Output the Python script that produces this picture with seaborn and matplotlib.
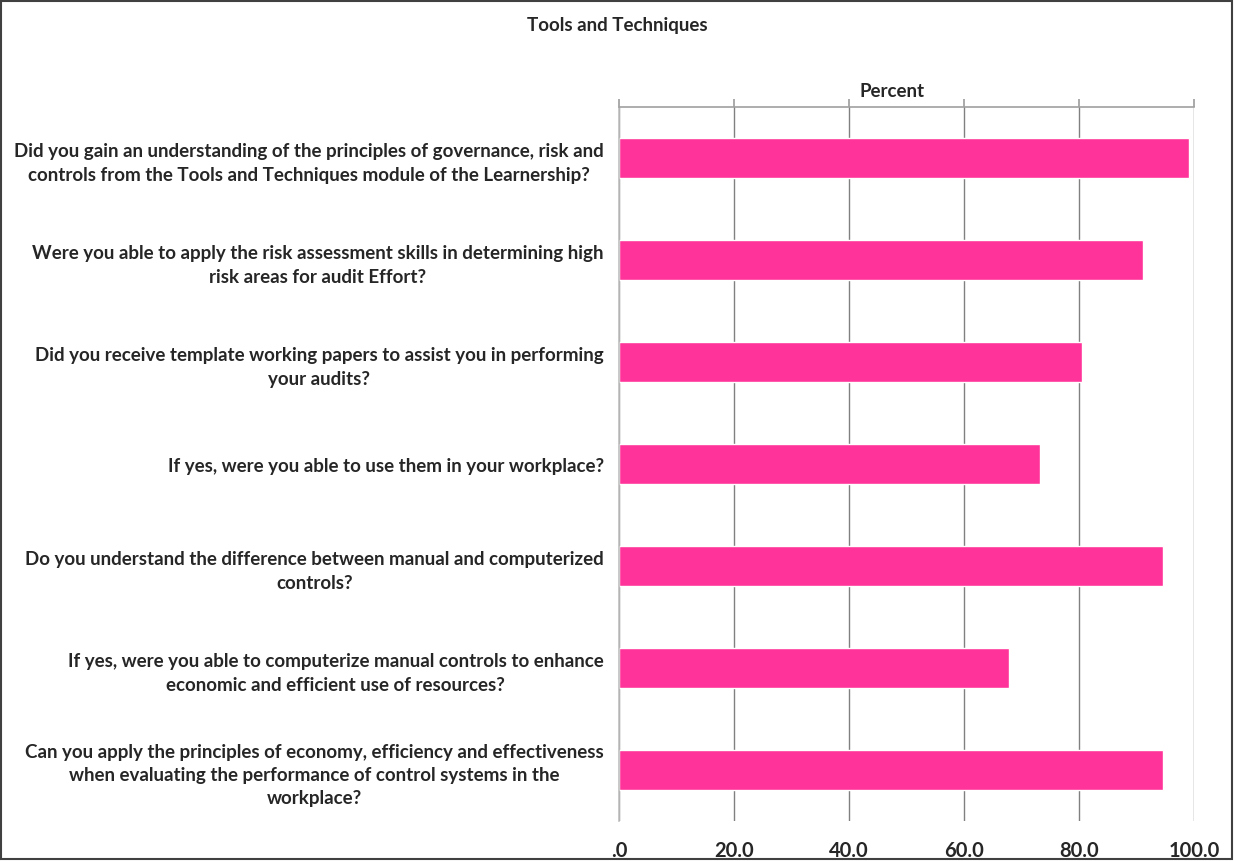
import matplotlib
matplotlib.use("Agg")
import matplotlib.pyplot as plt
import seaborn as sns
import pandas as pd
from matplotlib.patches import Rectangle

questions = [
    "Did you gain an understanding of the principles of governance, risk and\ncontrols from the Tools and Techniques module of the Learnership?",
    "Were you able to apply the risk assessment skills in determining high\nrisk areas for audit Effort?",
    "Did you receive template working papers to assist you in performing\nyour audits?",
    "If yes, were you able to use them in your workplace?",
    "Do you understand the difference between manual and computerized\ncontrols?",
    "If yes, were you able to computerize manual controls to enhance\neconomic and efficient use of resources?",
    "Can you apply the principles of economy, efficiency and effectiveness\nwhen evaluating the performance of control systems in the\nworkplace?",
]
percent = [99.1, 91.1, 80.5, 73.2, 94.6, 67.8, 94.6]
xticks = [0, 20, 40, 60, 80, 100]
xtick_labels = [".0", "20.0", "40.0", "60.0", "80.0", "100.0"]

sns.set_theme(style="white")
plt.rcParams['font.family'] = ['Lato', 'DejaVu Sans']
plt.rcParams['font.weight'] = 'bold'

df = pd.DataFrame({"question": questions, "percent": percent})

fig = plt.figure(figsize=(12.34, 8.62), dpi=100)
ax = fig.add_axes([619/1234, 1 - 822/862, (1194-619)/1234, (822-108)/862])

sns.barplot(data=df, y="question", x="percent", orient="h", color="#FF3399",
            width=0.4, saturation=1, ax=ax)

ax.set_xlim(0, 100)
ax.set_ylim(6.5, -0.5)
ax.set_xticks(xticks)
ax.set_xticklabels(xtick_labels, fontsize=14.5, fontweight='bold')
ax.tick_params(axis='x', top=True, bottom=False, labeltop=False, labelbottom=True,
               direction='out', length=6, color='#A0A0A0', pad=8)
ax.tick_params(axis='y', left=False, pad=5)
for lbl in ax.get_yticklabels():
    lbl.set_fontsize(13.5)
    lbl.set_fontweight('bold')
    lbl.set_multialignment('center')
    lbl.set_linespacing(1.45)

ax.set_ylabel("")
ax.xaxis.set_label_position('top')
ax.set_xlabel("Percent", fontsize=13.5, fontweight='bold', labelpad=6)
ax.xaxis.set_label_coords((892 - 619) / (1194 - 619), 1.0 + 8/714, transform=ax.transAxes)
ax.xaxis.label.set_va('bottom')

ax.grid(axis='x', color='#808080', linewidth=1.0)
ax.set_axisbelow(True)
for s in ['bottom', 'right']:
    ax.spines[s].set_visible(False)
ax.spines['left'].set_color('#BFBFBF')
ax.spines['top'].set_color('#A0A0A0')
ax.spines['left'].set_linewidth(1.2)
ax.spines['top'].set_linewidth(1.2)

fig.text(617/1234, 1 - 25/862, "Tools and Techniques", ha='center', va='center',
         fontsize=13.5, fontweight='bold')

fig.patches.append(Rectangle((0.001, 0.002), 0.997, 0.996, transform=fig.transFigure,
                             fill=False, edgecolor='#404040', linewidth=1.5))

fig.savefig("out.png", dpi=100)
